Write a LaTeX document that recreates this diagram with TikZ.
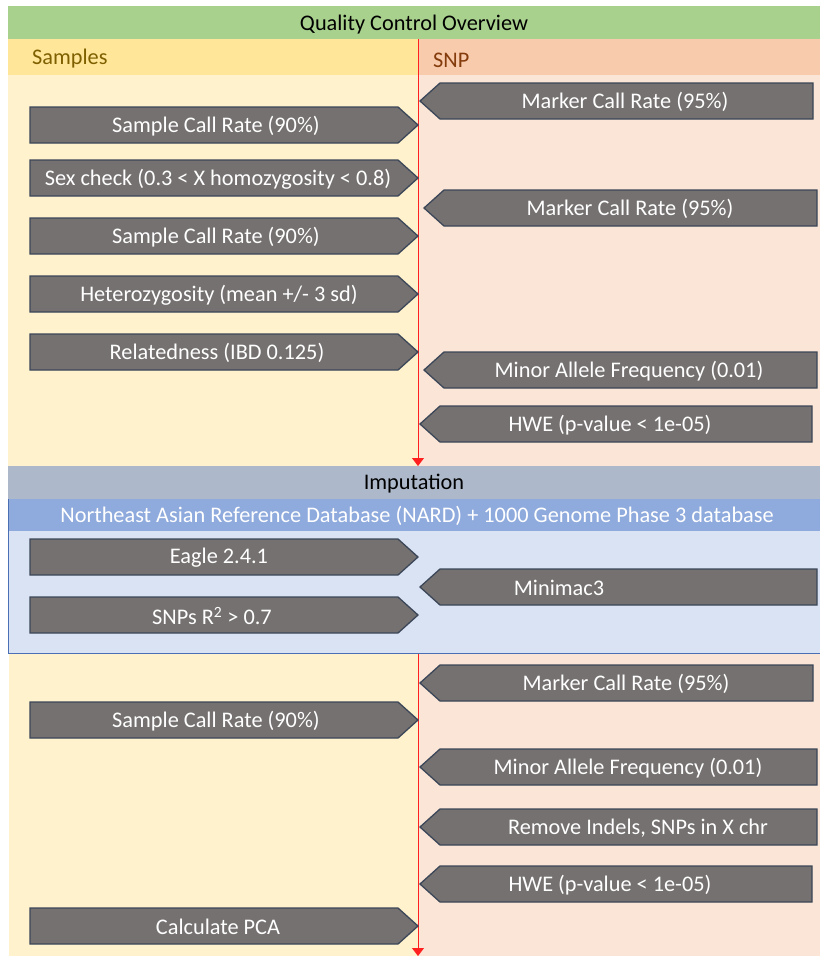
\documentclass[tikz,border=0pt]{standalone}
\usepackage{fontspec}
\setmainfont{Carlito}
\usetikzlibrary{arrows.meta}

\definecolor{qcgreen}{HTML}{A9D18E}
\definecolor{samphead}{HTML}{FFE699}
\definecolor{sampbody}{HTML}{FFF2CC}
\definecolor{snphead}{HTML}{F8CBAD}
\definecolor{snpbody}{HTML}{FBE5D6}
\definecolor{imphead}{HTML}{ADB9CA}
\definecolor{nardband}{HTML}{8FAADC}
\definecolor{impbody}{HTML}{DAE3F3}
\definecolor{impedge}{HTML}{4A6FB5}
\definecolor{stepfill}{HTML}{767171}
\definecolor{stepedge}{HTML}{3B4758}
\definecolor{sampletxt}{HTML}{7F6000}
\definecolor{snptxt}{HTML}{843C0C}
\definecolor{flowred}{HTML}{FF2020}

\tikzset{
  arrowbox/.style={fill=stepfill, draw=stepedge, line width=1.3pt, line join=miter},
  arrowtext/.style={text=white, font=\fontsize{22.3}{26}\selectfont, inner sep=0pt},
  headtext/.style={font=\fontsize{22.3}{26}\selectfont, inner sep=0pt},
  flow/.style={draw=flowred, line width=0.8pt, -{Triangle[width=12pt,length=8pt]}},
}

% step pointing right: name, y centre, text x, text
\newcommand\toright[4]{%
  \draw[arrowbox] (30,#2-18) -- (398,#2-18) -- (418,#2) -- (398,#2+18) -- (30,#2+18) -- cycle;
  \node[arrowtext] (#1) at (#3,#2+1) {#4};}
% step pointing left: name, y centre, tip x, right x, text x, text
\newcommand\toleft[6]{%
  \draw[arrowbox] (#3,#2) -- (#3+20,#2-18) -- (#4,#2-18) -- (#4,#2+18) -- (#3+20,#2+18) -- cycle;
  \node[arrowtext] (#1) at (#5,#2+1) {#6};}

\begin{document}
\begin{tikzpicture}[x=1pt, y=-1pt]
\useasboundingbox (0,0) rectangle (820,956);
\fill[white] (0,0) rectangle (820,956);

% ---- Quality control block ----
\fill[qcgreen] (8,6) rectangle (820,39);
\node[headtext] (qc) at (414,24.5) {Quality Control Overview};
\fill[samphead] (8,39) rectangle (418,75);
\fill[snphead] (418,39) rectangle (820,75);
\fill[sampbody] (8,75) rectangle (418,466);
\fill[snpbody] (418,75) rectangle (820,466);
\node[headtext, text=sampletxt, anchor=west] (samples) at (32,58.5) {Samples};
\node[headtext, text=snptxt, anchor=west] (snp) at (433,60) {SNP};

\coordinate (qctop) at (418,39);
\coordinate (qcend) at (418,466);
\draw[flow] (qctop) -- (qcend);

\toleft{mcrA}{101}{420}{813}{625}{Marker Call Rate (95\%)}
\toright{scrA}{125}{216}{Sample Call Rate (90\%)}
\toright{sex}{178}{218}{Sex check (0.3 < X homozygosity < 0.8)}
\toleft{mcrB}{208}{424}{817}{630}{Marker Call Rate (95\%)}
\toright{scrB}{236}{216}{Sample Call Rate (90\%)}
\toright{het}{294}{219}{Heterozygosity (mean +/- 3 sd)}
\toright{rel}{352}{217}{Relatedness (IBD 0.125)}
\toleft{mafA}{370}{424}{817}{629}{Minor Allele Frequency (0.01)}
\toleft{hweA}{424}{420}{812}{610}{HWE (p-value < 1e-05)}

% ---- Imputation block ----
\fill[imphead] (8,466) rectangle (820,499);
\node[headtext] (imp) at (414,484) {Imputation};
\fill[nardband] (8,499) rectangle (820,531);
\fill[impbody] (8,531) rectangle (820,653);
\draw[impedge, line width=1pt] (8.5,499) -- (8.5,653) -- (820,653);
\node[headtext, text=white] (nard) at (417,516) {Northeast Asian Reference Database (NARD) + 1000 Genome Phase 3 database};

\toright{eagle}{557}{219}{Eagle 2.4.1}
\toleft{minimac}{587}{420}{817}{559}{Minimac3}
\toright{rsq}{615}{212}{SNPs R\textsuperscript{2} > 0.7}

% ---- Post-imputation block ----
\fill[sampbody] (9,653.5) rectangle (418,956);
\fill[snpbody] (418,653.5) rectangle (820,956);
\coordinate (posttop) at (418,654);
\coordinate (postend) at (418,956);
\draw[flow] (posttop) -- (postend);

\toleft{mcrC}{683}{420}{813}{626}{Marker Call Rate (95\%)}
\toright{scrC}{720}{216}{Sample Call Rate (90\%)}
\toleft{mafB}{767}{420}{817}{628}{Minor Allele Frequency (0.01)}
\toleft{indel}{827}{420}{817}{638}{Remove Indels, SNPs in X chr}
\toleft{hweB}{884}{420}{812}{610}{HWE (p-value < 1e-05)}
\toright{pca}{926}{218}{Calculate PCA}
\end{tikzpicture}
\end{document}
